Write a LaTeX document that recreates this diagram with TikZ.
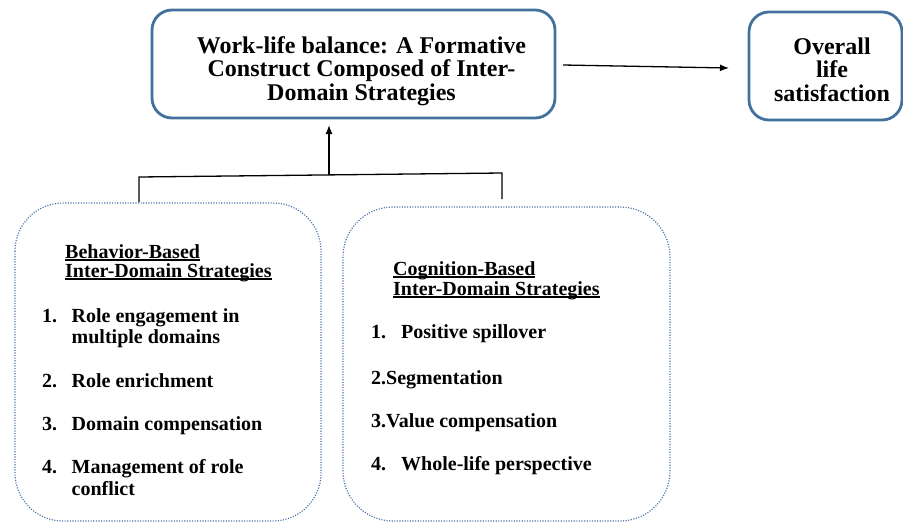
\documentclass[tikz,border=0pt]{standalone}
\usepackage{fontspec}
\setmainfont{Liberation Serif}
\usetikzlibrary{arrows.meta}
\definecolor{boxblue}{HTML}{41719C}
\definecolor{dotblue}{HTML}{4A72A8}
\newcommand\myul[1]{\setbox0\hbox{#1}\rlap{\rule[-2.6pt]{\wd0}{1.5pt}}\box0}
\tikzset{
  mainbox/.style={draw=boxblue, line width=2.8pt, rounded corners=20pt},
  dotbox/.style={draw=dotblue, line width=1.2pt, dash pattern=on 1.1pt off 1.5pt, rounded corners=48pt},
  conn/.style={draw=black, line width=1.3pt},
  arr/.style={conn, -{Latex[length=9pt,width=7pt]}},
  bigtxt/.style={font=\fontsize{24}{23.5}\selectfont\bfseries, align=center, inner sep=0pt},
  hdr/.style={font=\fontsize{20}{19}\selectfont\bfseries, anchor=base west, inner sep=0pt},
  itm/.style={font=\fontsize{20}{21.5}\selectfont\bfseries, anchor=base west, inner sep=0pt},
}
\begin{document}
\begin{tikzpicture}[x=1pt,y=-1pt]
\useasboundingbox (0,0) rectangle (903,523);
% boxes
\path[mainbox] (152,10) rectangle (555,118);
\node (main) at (353.5,64) [minimum width=403pt, minimum height=108pt] {};
\node[bigtxt, anchor=base] (mt1) at (361.5,53) {Work-life balance: A Formative};
\node[bigtxt, anchor=base] (mt2) at (361.5,76.5) {Construct Composed of Inter-};
\node[bigtxt, anchor=base] (mt3) at (361.5,100) {Domain Strategies};
\path[mainbox] (749,12) rectangle (902,120);
\node (overall) at (825.5,66) [minimum width=153pt, minimum height=108pt] {};
\node[bigtxt, anchor=base] (ot1) at (832,54) {Overall};
\node[bigtxt, anchor=base] (ot2) at (832,77.5) {life};
\node[bigtxt, anchor=base] (ot3) at (832,101) {satisfaction};
\path[dotbox] (15,203) rectangle (321,521);
\node (lbox) at (168,362) [minimum width=306pt, minimum height=318pt] {};
\path[dotbox, rounded corners=50pt] (343,207) rectangle (670,521);
\node (rbox) at (506.5,364) [minimum width=327pt, minimum height=314pt] {};
% connectors
\coordinate (bl) at (139,202);
\coordinate (blt) at (139,177);
\coordinate (brt) at (502,173);
\coordinate (br) at (502,199);
\coordinate (bm) at (329,175);
\coordinate (bmt) at (329,125);
\draw[conn] (bl) -- (blt) -- (brt) -- (br);
\draw[arr] (bm) -- (bmt);
\coordinate (a1) at (563,65);
\coordinate (a2) at (729,68);
\draw[arr] (a1) -- (a2);
% left text
\node[hdr] (lh1) at (65,258) {\myul{Behavior-Based}};
\node[hdr] (lh2) at (65,277) {\myul{Inter-Domain Strategies}};
\node[itm] (l1n) at (42,322) {1.};
\node[itm] (l1) at (71.5,322) {Role engagement in};
\node[itm] (l1b) at (71.5,343) {multiple domains};
\node[itm] (l2n) at (42,387) {2.};
\node[itm] (l2) at (71.5,387) {Role enrichment};
\node[itm] (l3n) at (42,430) {3.};
\node[itm] (l3) at (71.5,430) {Domain compensation};
\node[itm] (l4n) at (42,473) {4.};
\node[itm] (l4) at (71.5,473) {Management of role};
\node[itm] (l4b) at (71.5,495) {conflict};
% right text
\node[hdr] (rh1) at (393,275) {\myul{Cognition-Based}};
\node[hdr] (rh2) at (393,295) {\myul{Inter-Domain Strategies}};
\node[itm] (r1n) at (371,338) {1.};
\node[itm] (r1) at (401,338) {Positive spillover};
\node[itm] (r2) at (371,384) {2.Segmentation};
\node[itm] (r3) at (371,427) {3.Value compensation};
\node[itm] (r4n) at (371,470) {4.};
\node[itm] (r4) at (401,470) {Whole-life perspective};
\end{tikzpicture}
\end{document}
